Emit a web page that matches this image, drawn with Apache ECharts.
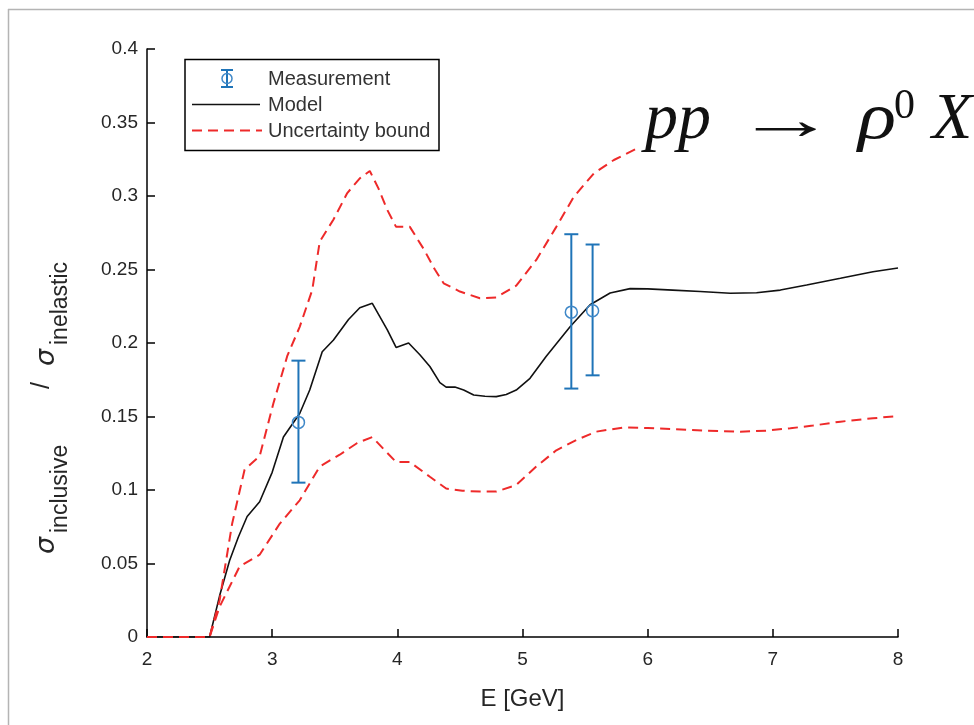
<!DOCTYPE html>
<html>
<head>
<meta charset="utf-8">
<title>pp → ρ0 X inclusive cross-section ratio</title>
<script src="https://cdn.jsdelivr.net/npm/echarts@6/dist/echarts.min.js"></script>
<style>
  html, body { margin: 0; padding: 0; background: #ffffff; }
  #chart { width: 974px; height: 725px; }
</style>
</head>
<body>
<div id="chart"></div>
<script>
// Model curve: sigma_inclusive / sigma_inelastic versus beam energy E [GeV]
var modelE = [2, 2.5, 2.58, 2.66, 2.73, 2.80, 2.90, 3.0, 3.09, 3.22, 3.30, 3.40, 3.49, 3.61, 3.70, 3.80,
              3.86, 3.92, 3.99, 4.09, 4.18, 4.26, 4.34, 4.39, 4.46, 4.53, 4.61, 4.70, 4.79, 4.87, 4.95,
              5.06, 5.19, 5.38, 5.54, 5.70, 5.86, 6.0, 6.20, 6.42, 6.66, 6.87, 7.06, 7.27, 7.54, 7.80, 8.0];
var modelV = [0, 0, 0.028, 0.052, 0.068, 0.082, 0.092, 0.112, 0.136, 0.152, 0.168, 0.194, 0.202, 0.216, 0.224, 0.227,
              0.218, 0.209, 0.197, 0.200, 0.192, 0.184, 0.173, 0.170, 0.170, 0.168, 0.1646, 0.1638, 0.1635, 0.165, 0.168,
              0.176, 0.191, 0.211, 0.226, 0.234, 0.237, 0.2368, 0.236, 0.235, 0.2338, 0.2342, 0.236, 0.2394, 0.244, 0.2485, 0.251];

// Upper uncertainty bound
var upperE = [2, 2.5, 2.58, 2.68, 2.78, 2.90, 3.01, 3.12, 3.22, 3.32, 3.38, 3.49, 3.60, 3.70, 3.78, 3.85,
              3.92, 3.99, 4.10, 4.21, 4.30, 4.37, 4.50, 4.66, 4.79, 4.95, 5.11, 5.27, 5.41, 5.57, 5.73, 5.93];
var upperV = [0, 0, 0.025, 0.077, 0.114, 0.123, 0.159, 0.191, 0.211, 0.236, 0.269, 0.284, 0.302, 0.312, 0.317, 0.305,
              0.2905, 0.279, 0.279, 0.264, 0.250, 0.2406, 0.235, 0.2304, 0.231, 0.239, 0.2565, 0.279, 0.2995, 0.3154, 0.3245, 0.333];

// Lower uncertainty bound
var lowerE = [2, 2.5, 2.58, 2.74, 2.90, 3.06, 3.22, 3.38, 3.54, 3.68, 3.80, 3.90, 3.99, 4.10, 4.26, 4.39, 4.52,
              4.66, 4.79, 4.95, 5.11, 5.27, 5.43, 5.59, 5.81, 6.0, 6.20, 6.47, 6.74, 6.95, 7.14, 7.32, 7.54, 7.80, 8.0];
var lowerV = [0, 0, 0.0206, 0.048, 0.056, 0.077, 0.093, 0.116, 0.124, 0.132, 0.136, 0.127, 0.119, 0.119, 0.109, 0.101, 0.0995,
              0.0989, 0.0989, 0.1034, 0.116, 0.127, 0.134, 0.1397, 0.1426, 0.1422, 0.1415, 0.1404, 0.1397, 0.1404, 0.142, 0.1438, 0.1465, 0.1488, 0.1503];

// Measurements with error bars
var measE  = [3.21, 5.39, 5.56];
var measV  = [0.146, 0.221, 0.222];
var measLo = [0.105, 0.169, 0.178];
var measHi = [0.188, 0.274, 0.267];

// Axis ranges and ticks
var xTicks = { min: 2, max: 8, interval: 1 };
var yTicks = { min: 0, max: 0.4, interval: 0.05 };

var BLUE = '#1f74b8';
var RED = '#ee2a2a';
var TEXT = '#262626';

function pairs(xs, ys) { return xs.map(function (x, i) { return [x, ys[i]]; }); }

// a piece of the vertical axis title, reading bottom to top
function vText(str, x, y, font) {
  return {
    type: 'text', x: x, y: y, rotation: Math.PI / 2, silent: true,
    style: { text: str, font: font, fill: TEXT, align: 'left', verticalAlign: 'middle' }
  };
}

var chart = echarts.init(document.getElementById('chart'), null, { renderer: 'canvas' });

var option = {
  animation: false,
  backgroundColor: '#ffffff',
  grid: { left: 147, right: 76, top: 49, bottom: 88, containLabel: false },
  xAxis: {
    type: 'value',
    min: xTicks.min, max: xTicks.max, interval: xTicks.interval,
    name: 'E [GeV]',
    nameLocation: 'middle',
    nameGap: 50,
    nameTextStyle: { fontFamily: 'Liberation Sans', fontSize: 24, color: TEXT },
    axisLine: { lineStyle: { color: '#000', width: 1.5 } },
    axisTick: { inside: true, length: 8, lineStyle: { color: '#000', width: 1.5 } },
    axisLabel: { margin: 13, fontFamily: 'Liberation Sans', fontSize: 19, color: TEXT },
    splitLine: { show: false }
  },
  yAxis: {
    type: 'value',
    min: yTicks.min, max: yTicks.max, interval: yTicks.interval,
    axisLine: { show: true, lineStyle: { color: '#000', width: 1.5 } },
    axisTick: { show: true, inside: true, length: 8, lineStyle: { color: '#000', width: 1.5 } },
    axisLabel: { margin: 9, fontFamily: 'Liberation Sans', fontSize: 19, color: TEXT },
    splitLine: { show: false }
  },
  series: [
    {
      name: 'Model',
      type: 'line',
      data: pairs(modelE, modelV),
      showSymbol: false,
      lineStyle: { color: '#111', width: 1.6 },
      z: 2
    },
    {
      name: 'Uncertainty bound',
      type: 'line',
      data: pairs(upperE, upperV),
      showSymbol: false,
      lineStyle: { color: RED, width: 2, type: [10, 6] },
      z: 3
    },
    {
      name: 'Uncertainty bound (lower)',
      type: 'line',
      data: pairs(lowerE, lowerV),
      showSymbol: false,
      lineStyle: { color: RED, width: 2, type: [10, 6] },
      z: 3
    },
    {
      name: 'Measurement',
      type: 'custom',
      data: measE.map(function (e, i) { return [e, measV[i], measLo[i], measHi[i]]; }),
      z: 5,
      renderItem: function (params, api) {
        var x = api.value(0);
        var c = api.coord([x, api.value(1)]);
        var lo = api.coord([x, api.value(2)]);
        var hi = api.coord([x, api.value(3)]);
        var cap = 7;
        var s = { stroke: BLUE, lineWidth: 2 };
        return {
          type: 'group',
          children: [
            { type: 'line', shape: { x1: lo[0], y1: lo[1], x2: hi[0], y2: hi[1] }, style: s },
            { type: 'line', shape: { x1: lo[0] - cap, y1: lo[1], x2: lo[0] + cap, y2: lo[1] }, style: s },
            { type: 'line', shape: { x1: hi[0] - cap, y1: hi[1], x2: hi[0] + cap, y2: hi[1] }, style: s },
            { type: 'circle', shape: { cx: c[0], cy: c[1], r: 6 },
              style: { fill: 'none', stroke: '#3f88c8', lineWidth: 1.5 } }
          ]
        };
      }
    }
  ],
  graphic: [
    // outer frame
    { type: 'line', shape: { x1: 8.5, y1: 9, x2: 8.5, y2: 725 }, style: { stroke: '#b4b4b4', lineWidth: 1.5 }, silent: true },
    { type: 'line', shape: { x1: 8, y1: 9.5, x2: 974, y2: 9.5 }, style: { stroke: '#b4b4b4', lineWidth: 1.5 }, silent: true },

    // y-axis title: sigma_inclusive / sigma_inelastic
    vText('σ', 47, 554, 'italic 27px "DejaVu Sans"'),
    vText('inclusive', 61, 533, '23px "Liberation Sans"'),
    vText('/', 42, 389, '25px "Liberation Sans"'),
    vText('σ', 47, 366, 'italic 27px "DejaVu Sans"'),
    vText('inelastic', 61, 345, '23px "Liberation Sans"'),

    // reaction label
    { type: 'text', x: 645, y: 121, style: { text: 'pp', font: 'italic 66px "Liberation Serif"', fill: '#111', verticalAlign: 'middle' } },
    { type: 'text', x: 735, y: 124, scaleX: 1.75, style: { text: '→', font: '58px "Liberation Serif"', fill: '#111', verticalAlign: 'middle' } },
    { type: 'text', x: 858, y: 121, scaleX: 1.2, style: { text: 'ρ', font: 'italic 66px "Liberation Serif"', fill: '#111', verticalAlign: 'middle' } },
    { type: 'text', x: 894, y: 107, style: { text: '0', font: '42px "Liberation Serif"', fill: '#111', verticalAlign: 'middle' } },
    { type: 'text', x: 932, y: 121, style: { text: 'X', font: 'italic 66px "Liberation Serif"', fill: '#111', verticalAlign: 'middle' } },

    // legend
    {
      type: 'group',
      children: [
        { type: 'rect', shape: { x: 185, y: 59.5, width: 254, height: 91 }, style: { fill: '#fff', stroke: '#000', lineWidth: 1.5 } },
        // measurement icon
        { type: 'line', shape: { x1: 227, y1: 70, x2: 227, y2: 87 }, style: { stroke: BLUE, lineWidth: 2 } },
        { type: 'line', shape: { x1: 221, y1: 70, x2: 233, y2: 70 }, style: { stroke: BLUE, lineWidth: 2 } },
        { type: 'line', shape: { x1: 221, y1: 87, x2: 233, y2: 87 }, style: { stroke: BLUE, lineWidth: 2 } },
        { type: 'circle', shape: { cx: 227, cy: 78.5, r: 5 }, style: { fill: 'none', stroke: '#3f88c8', lineWidth: 1.5 } },
        { type: 'text', x: 268, y: 79, style: { text: 'Measurement', font: '20px "Liberation Sans"', fill: '#333', verticalAlign: 'middle' } },
        // model icon
        { type: 'line', shape: { x1: 192, y1: 104.5, x2: 260, y2: 104.5 }, style: { stroke: '#111', lineWidth: 1.6 } },
        { type: 'text', x: 268, y: 105, style: { text: 'Model', font: '20px "Liberation Sans"', fill: '#333', verticalAlign: 'middle' } },
        // uncertainty icon
        { type: 'line', shape: { x1: 192, y1: 130.5, x2: 262, y2: 130.5 }, style: { stroke: RED, lineWidth: 2, lineDash: [10, 6] } },
        { type: 'text', x: 268, y: 131, style: { text: 'Uncertainty bound', font: '20px "Liberation Sans"', fill: '#333', verticalAlign: 'middle' } }
      ]
    }
  ]
};

chart.setOption(option);
</script>
</body>
</html>
